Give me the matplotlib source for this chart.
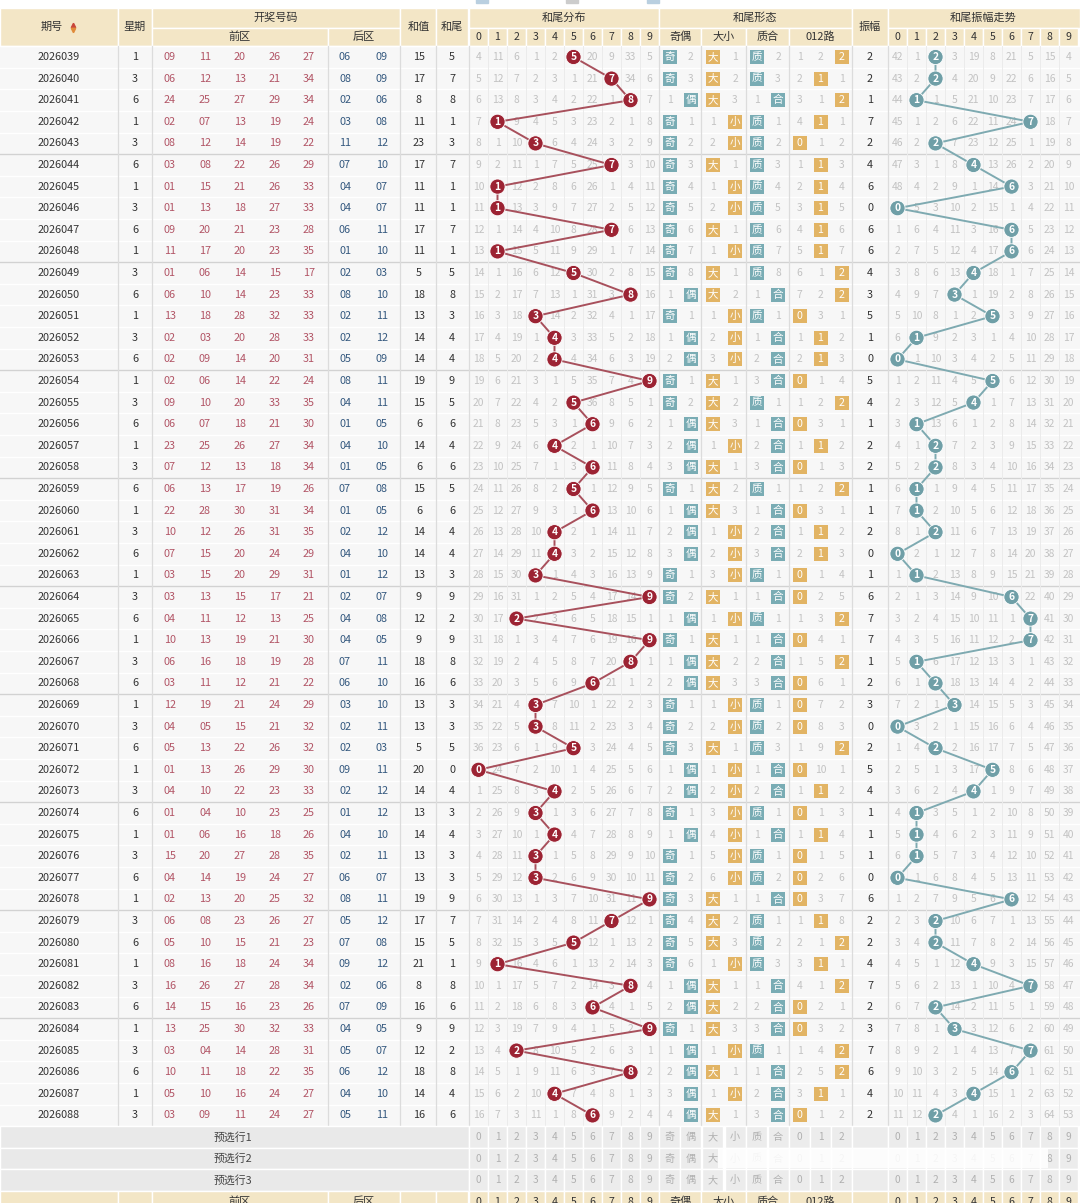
import numpy as np
import matplotlib.pyplot as plt
from matplotlib.patches import Rectangle, Circle

plt.rcParams['font.family'] = ['Noto Sans CJK SC', 'DejaVu Sans']

# ---- data ----
periods = list(range(2026039, 2026089))
weekday = [1, 3, 6, 1, 3, 6, 1, 3, 6, 1, 3, 6, 1, 3, 6, 1, 3, 6, 1, 3, 6, 1, 3, 6, 1,
           3, 6, 1, 3, 6, 1, 3, 6, 1, 3, 6, 1, 3, 6, 1, 3, 6, 1, 3, 6, 1, 3, 6, 1, 3]
front = [
    [9, 11, 20, 26, 27], [6, 12, 13, 21, 34], [24, 25, 27, 29, 34], [2, 7, 13, 19, 24],
    [8, 12, 14, 19, 22], [3, 8, 22, 26, 29], [1, 15, 21, 26, 33], [1, 13, 18, 27, 33],
    [9, 20, 21, 23, 28], [11, 17, 20, 23, 35], [1, 6, 14, 15, 17], [6, 10, 14, 23, 33],
    [13, 18, 28, 32, 33], [2, 3, 20, 28, 33], [2, 9, 14, 20, 31], [2, 6, 14, 22, 24],
    [9, 10, 20, 33, 35], [6, 7, 18, 21, 30], [23, 25, 26, 27, 34], [7, 12, 13, 18, 34],
    [6, 13, 17, 19, 26], [22, 28, 30, 31, 34], [10, 12, 26, 31, 35], [7, 15, 20, 24, 29],
    [3, 15, 20, 29, 31], [3, 13, 15, 17, 21], [4, 11, 12, 13, 25], [10, 13, 19, 21, 30],
    [6, 16, 18, 19, 28], [3, 11, 12, 21, 22], [12, 19, 21, 24, 29], [4, 5, 15, 21, 32],
    [5, 13, 22, 26, 32], [1, 13, 26, 29, 30], [4, 10, 22, 23, 33], [1, 4, 10, 23, 25],
    [1, 6, 16, 18, 26], [15, 20, 27, 28, 35], [4, 14, 19, 24, 27], [2, 13, 20, 25, 32],
    [6, 8, 23, 26, 27], [5, 10, 15, 21, 23], [8, 16, 18, 24, 34], [16, 26, 27, 28, 34],
    [14, 15, 16, 23, 26], [13, 25, 30, 32, 33], [3, 4, 14, 28, 31], [10, 11, 18, 22, 35],
    [5, 10, 16, 24, 27], [3, 9, 11, 24, 27]]
back = [
    [6, 9], [8, 9], [2, 6], [3, 8], [11, 12], [7, 10], [4, 7], [4, 7], [6, 11], [1, 10],
    [2, 3], [8, 10], [2, 11], [2, 12], [5, 9], [8, 11], [4, 11], [1, 5], [4, 10], [1, 5],
    [7, 8], [1, 5], [2, 12], [4, 10], [1, 12], [2, 7], [4, 8], [4, 5], [7, 11], [6, 10],
    [3, 10], [2, 11], [2, 3], [9, 11], [2, 12], [1, 12], [4, 10], [2, 11], [6, 7], [8, 11],
    [5, 12], [7, 8], [9, 12], [2, 6], [7, 9], [4, 5], [5, 7], [6, 12], [4, 10], [5, 11]]
sums = [15, 17, 8, 11, 23, 17, 11, 11, 17, 11, 5, 18, 13, 14, 14, 19, 15, 6, 14, 6,
        15, 6, 14, 14, 13, 9, 12, 9, 18, 16, 13, 13, 5, 20, 14, 13, 14, 13, 13, 19,
        17, 15, 21, 8, 16, 9, 12, 18, 14, 16]
prev_tail = 3  # tail of 2026038, gives the first amplitude

# omission counts shown on the first row (hit cells = 0)
dist_first = [4, 11, 6, 1, 2, 0, 20, 9, 33, 5]
oe_first = [0, 2]
bs_first = [0, 1]
pc_first = [0, 2]
r3_first = [1, 2, 0]
amp_first = [42, 1, 0, 3, 19, 8, 21, 5, 15, 4]

tails = [s % 10 for s in sums]
amps = [abs(t - p) for t, p in zip(tails, [prev_tail] + tails[:-1])]


def omission(first, hits):
    rows = [list(first)]
    for h in hits[1:]:
        rows.append([0 if k == h else v + 1 for k, v in enumerate(rows[-1])])
    return rows


oe_hit = [0 if t % 2 else 1 for t in tails]
bs_hit = [0 if t >= 5 else 1 for t in tails]
pc_hit = [0 if t in (1, 2, 3, 5, 7) else 1 for t in tails]
r3_hit = [t % 3 for t in tails]

dist_rows = omission(dist_first, tails)
oe_rows = omission(oe_first, oe_hit)
bs_rows = omission(bs_first, bs_hit)
pc_rows = omission(pc_first, pc_hit)
r3_rows = omission(r3_first, r3_hit)
amp_rows = omission(amp_first, amps)

# ---- layout (pixels) ----
W, H = 1080, 1203
fig = plt.figure(figsize=(W / 100, H / 100), dpi=100)
ax = fig.add_axes([0, 0, 1, 1])
ax.set_xlim(0, W)
ax.set_ylim(H, 0)
ax.axis('off')

BEIGE = '#f3e6c6'
TXT = '#333333'
GREY = '#c2c2c2'
RED = '#9c2333'
REDL = '#a8505c'
TEAL = '#6f9fa7'
TEALB = '#79acb4'
GOLD = '#e2b464'
FRONT_C = '#b25566'
BACK_C = '#35597f'
FS = 7.8

head_top, head_mid, head_bot = 8, 27.5, 46.2
row_h = 21.6
n = len(periods)


def ry(i):
    return head_bot + row_h * (i + 0.5)


data_bot = head_bot + row_h * n

dist_x = [478.5 + 19 * k for k in range(10)]
amp_x = [897.5 + 19 * k for k in range(10)]
oe_x = [669.5, 690.5]
bs_x = [712.5, 735]
pc_x = [756.5, 778]
r3_x = [799.5, 820.5, 841.5]
col_x = {'period': 59, 'week': 135, 'sum': 419, 'tail': 452, 'amp': 870}
front_x = [170, 205, 240, 275, 309]
back_x = [345, 382]


def txt(x, y, s, color=TXT, size=FS, weight='normal', z=4):
    ax.text(x, y, s, ha='center', va='center', fontsize=size, color=color,
            fontweight=weight, zorder=z, clip_on=True)


def cell(x0, y0, x1, y1, fc, ec='white', lw=1.0, z=1):
    ax.add_patch(Rectangle((x0, y0), x1 - x0, y1 - y0, fc=fc, ec=ec, lw=lw, zorder=z))


# top strip icons (cut off by the crop)
for xi, c in [(482, '#b9cfe0'), (572, '#cccccc'), (653, '#b9cfe0')]:
    cell(xi - 6, -6, xi + 6, 3, c, ec=c)

# ---- header ----
cell(0, head_top, 118, head_bot, BEIGE)
txt(52, 27, '期号', size=8)
ax.plot([73], [24.5], marker='^', ms=3.2, color='#c8463a', zorder=5)
ax.plot([73], [30], marker='v', ms=3.2, color='#e08b3a', zorder=5)
cell(118, head_top, 152, head_bot, BEIGE)
txt(135, 27, '星期', size=8)
cell(152, head_top, 400, head_mid, BEIGE)
txt(276, 17.5, '开奖号码', size=8)
cell(152, head_mid, 328, head_bot, BEIGE)
txt(240, 37, '前区', size=8)
cell(328, head_mid, 400, head_bot, BEIGE)
txt(364, 37, '后区', size=8)
cell(400, head_top, 436, head_bot, BEIGE)
txt(419, 27, '和值', size=8)
cell(436, head_top, 468, head_bot, BEIGE)
txt(452, 27, '和尾', size=8)
cell(469, head_top, 659, head_mid, BEIGE)
txt(564, 17.5, '和尾分布', size=8)
for k, x in enumerate(dist_x):
    cell(x - 9.5, head_mid, x + 9.5, head_bot, BEIGE)
    txt(x, 37, str(k), size=7.6)
cell(659, head_top, 852, head_mid, BEIGE)
txt(755, 17.5, '和尾形态', size=8)
for (x0, x1, lab) in [(659, 701, '奇偶'), (701, 746, '大小'), (746, 789, '质合'), (789, 852, '012路')]:
    cell(x0, head_mid, x1, head_bot, BEIGE)
    txt((x0 + x1) / 2, 37, lab, size=8)
cell(852, head_top, 888, head_bot, BEIGE)
txt(870, 27, '振幅', size=8)
cell(888, head_top, 1080, head_mid, BEIGE)
txt(983, 17.5, '和尾振幅走势', size=8)
for k, x in enumerate(amp_x):
    cell(x - 9.5, head_mid, x + 9.5, head_bot, BEIGE)
    txt(x, 37, str(k), size=7.6)

# ---- data body ----
cell(0, head_bot, W, data_bot, '#f7f7f7', ec='none', z=0)
for i in range(n + 1):
    y = head_bot + row_h * i
    ax.plot([0, W], [y, y], color='white', lw=1.0, zorder=1)
for i in range(5, n, 5):
    y = head_bot + row_h * i
    ax.plot([0, W], [y, y], color='#d2d2d2', lw=1.0, zorder=1)
for x in [118, 152, 328, 400, 436, 468.5, 659, 701, 746, 789, 852, 888]:
    ax.plot([x, x], [head_bot, data_bot], color='#dcdcdc', lw=0.9, zorder=1)
for xs in (dist_x, amp_x):
    for x in xs[1:]:
        ax.plot([x - 9.5, x - 9.5], [head_bot, data_bot], color='#ebebeb', lw=0.7, zorder=1)

for i in range(n):
    y = ry(i)
    txt(col_x['period'], y, str(periods[i]))
    txt(col_x['week'], y, str(weekday[i]))
    for x, v in zip(front_x, front[i]):
        txt(x, y, '%02d' % v, color=FRONT_C)
    for x, v in zip(back_x, back[i]):
        txt(x, y, '%02d' % v, color=BACK_C)
    txt(col_x['sum'], y, str(sums[i]))
    txt(col_x['tail'], y, str(tails[i]))
    txt(col_x['amp'], y, str(amps[i]))

    for k, x in enumerate(dist_x):
        if k != tails[i]:
            txt(x, y, str(dist_rows[i][k]), color=GREY, size=7.4, z=2)
    for k, x in enumerate(amp_x):
        if k != amps[i]:
            txt(x, y, str(amp_rows[i][k]), color=GREY, size=7.4, z=2)

    groups = [(oe_x, oe_rows, oe_hit, ['奇', '偶'], TEALB),
              (bs_x, bs_rows, bs_hit, ['大', '小'], GOLD),
              (pc_x, pc_rows, pc_hit, ['质', '合'], TEALB),
              (r3_x, r3_rows, r3_hit, ['0', '1', '2'], GOLD)]
    for xs, rows, hits, labs, c in groups:
        for k, x in enumerate(xs):
            if k == hits[i]:
                ax.add_patch(Rectangle((x - 7, y - 7), 14, 14, fc=c, ec='none', zorder=3))
                txt(x, y, labs[k], color='white', size=7.6, z=4)
            else:
                txt(x, y, str(rows[i][k]), color=GREY, size=7.4, z=2)

# trend lines and balls
yy = [ry(i) for i in range(n)]
ax.plot([dist_x[t] for t in tails], yy, color=REDL, lw=1.4, zorder=3)
ax.plot([amp_x[a] for a in amps], yy, color='#7eaab1', lw=1.4, zorder=3)
for i in range(n):
    ax.add_patch(Circle((dist_x[tails[i]], yy[i]), 7.6, fc=RED, ec='white', lw=0.6, zorder=5))
    txt(dist_x[tails[i]], yy[i], str(tails[i]), color='white', size=7.4, weight='bold', z=6)
    ax.add_patch(Circle((amp_x[amps[i]], yy[i]), 7.6, fc=TEAL, ec='white', lw=0.6, zorder=5))
    txt(amp_x[amps[i]], yy[i], str(amps[i]), color='white', size=7.4, weight='bold', z=6)

# ---- pre-selection rows ----
pre_labels = ['预选行1', '预选行2', '预选行3']
form_labs = [(oe_x, ['奇', '偶']), (bs_x, ['大', '小']), (pc_x, ['质', '合']), (r3_x, ['0', '1', '2'])]
for j, lab in enumerate(pre_labels):
    y0 = data_bot + row_h * j
    y = y0 + row_h / 2
    cell(0, y0, 468.5, y0 + row_h, '#e9e9e9')
    txt(233, y, lab, color='#444444', size=7.8)
    for k, x in enumerate(dist_x):
        cell(x - 9.5, y0, x + 9.5, y0 + row_h, '#ececec')
        txt(x, y, str(k), color='#b0b0b0', size=7.3)
    for xs, labs in form_labs:
        for x, l in zip(xs, labs):
            cell(x - 10.5, y0, x + 10.5, y0 + row_h, '#ececec')
            txt(x, y, l, color='#b0b0b0', size=7.3)
    cell(852, y0, 888, y0 + row_h, '#ececec')
    for k, x in enumerate(amp_x):
        cell(x - 9.5, y0, x + 9.5, y0 + row_h, '#ececec')
        txt(x, y, str(k), color='#b0b0b0', size=7.3)

# blurred overlay seen on the second pre-selection row
ax.add_patch(Rectangle((718, data_bot + row_h * 1 + 1), 330, row_h - 2,
                       fc='white', ec='none', alpha=0.88, zorder=7))

# ---- footer header (cut off at the bottom) ----
fy0 = data_bot + row_h * 3
fy = fy0 + row_h / 2
cell(0, fy0, 118, fy0 + row_h, BEIGE)
cell(118, fy0, 152, fy0 + row_h, BEIGE)
cell(152, fy0, 328, fy0 + row_h, BEIGE)
txt(240, fy, '前区', size=8)
cell(328, fy0, 400, fy0 + row_h, BEIGE)
txt(364, fy, '后区', size=8)
cell(400, fy0, 436, fy0 + row_h, BEIGE)
cell(436, fy0, 468, fy0 + row_h, BEIGE)
for k, x in enumerate(dist_x):
    cell(x - 9.5, fy0, x + 9.5, fy0 + row_h, BEIGE)
    txt(x, fy, str(k), size=7.6)
for (x0, x1, lab) in [(659, 701, '奇偶'), (701, 746, '大小'), (746, 789, '质合'), (789, 852, '012路')]:
    cell(x0, fy0, x1, fy0 + row_h, BEIGE)
    txt((x0 + x1) / 2, fy, lab, size=8)
cell(852, fy0, 888, fy0 + row_h, BEIGE)
for k, x in enumerate(amp_x):
    cell(x - 9.5, fy0, x + 9.5, fy0 + row_h, BEIGE)
    txt(x, fy, str(k), size=7.6)

fig.savefig('out.png', dpi=100, facecolor='white')
